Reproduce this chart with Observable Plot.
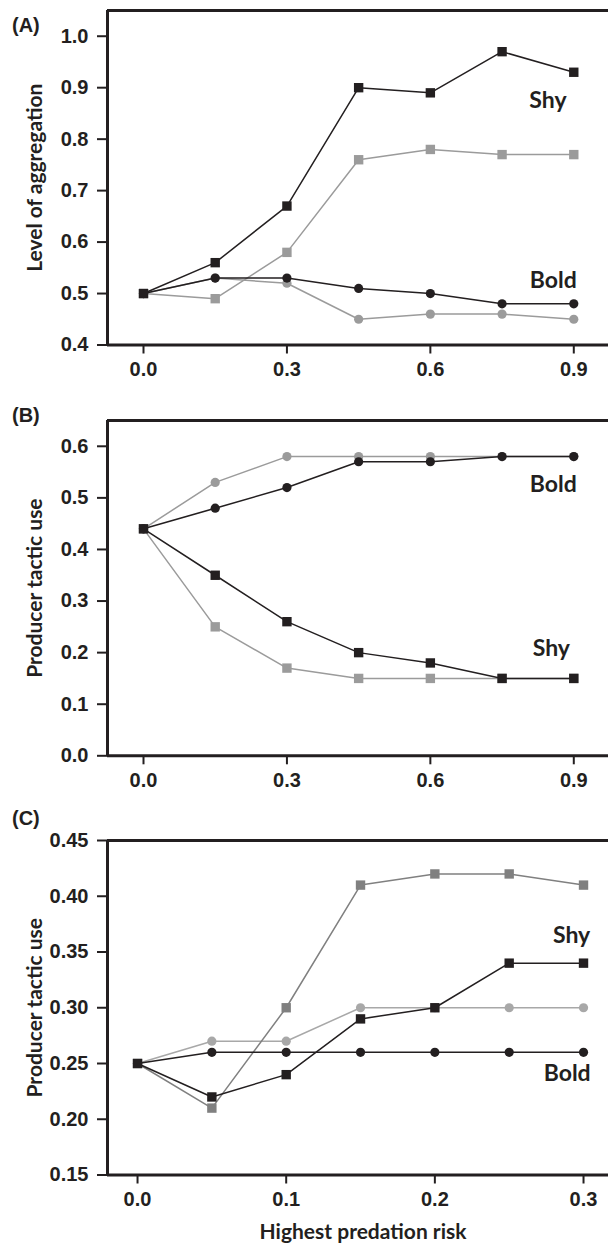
<!DOCTYPE html>
<html><head><meta charset="utf-8">
<script src="https://cdn.jsdelivr.net/npm/d3@7"></script>
<script src="https://cdn.jsdelivr.net/npm/@observablehq/plot@0.6"></script>
<style>
body{margin:0;background:#fff;}
#wrap{position:relative;width:608px;height:1246px;background:#fff;overflow:hidden;}
#wrap svg{position:absolute;left:0;font-weight:bold;}
#wrap svg g[aria-label="x-axis tick label"], #wrap svg g[aria-label="y-axis tick label"]{font-size:20px;font-weight:bold;}
.tag{position:absolute;left:12px;font:bold 20px 'Liberation Sans',Arial,sans-serif;line-height:1;color:#231f20;}
</style></head><body><div id="wrap"></div>
<script>
// x categories (predation risk)
const xAB = [0, 0.15, 0.3, 0.45, 0.6, 0.75, 0.9];
const xC  = [0, 0.05, 0.1, 0.15, 0.2, 0.25, 0.3];
// Panel A: level of aggregation
const aShyBlack  = [0.50, 0.56, 0.67, 0.90, 0.89, 0.97, 0.93];
const aShyGray   = [0.50, 0.49, 0.58, 0.76, 0.78, 0.77, 0.77];
const aBoldBlack = [0.50, 0.53, 0.53, 0.51, 0.50, 0.48, 0.48];
const aBoldGray  = [0.50, 0.53, 0.52, 0.45, 0.46, 0.46, 0.45];
// Panel B: producer tactic use
const bShyBlack  = [0.44, 0.35, 0.26, 0.20, 0.18, 0.15, 0.15];
const bShyGray   = [0.44, 0.25, 0.17, 0.15, 0.15, 0.15, 0.15];
const bBoldBlack = [0.44, 0.48, 0.52, 0.57, 0.57, 0.58, 0.58];
const bBoldGray  = [0.44, 0.53, 0.58, 0.58, 0.58, 0.58, 0.58];
// Panel C: producer tactic use
const cShyBlack  = [0.25, 0.22, 0.24, 0.29, 0.30, 0.34, 0.34];
const cShyGray   = [0.25, 0.21, 0.30, 0.41, 0.42, 0.42, 0.41];
const cBoldBlack = [0.25, 0.26, 0.26, 0.26, 0.26, 0.26, 0.26];
const cBoldGray  = [0.25, 0.27, 0.27, 0.30, 0.30, 0.30, 0.30];
// ticks
const xTicksAB = [0, 0.3, 0.6, 0.9];
const xTicksC  = [0, 0.1, 0.2, 0.3];
const yTicksA  = [0.4, 0.5, 0.6, 0.7, 0.8, 0.9, 1.0];
const yTicksB  = [0, 0.1, 0.2, 0.3, 0.4, 0.5, 0.6];
const yTicksC  = [0.15, 0.20, 0.25, 0.30, 0.35, 0.40, 0.45];
// labels
const panelTags = ["(A)", "(B)", "(C)"];
const yTitles = ["Level of aggregation", "Producer tactic use", "Producer tactic use"];
const xTitle = "Highest predation risk";
const annA = [{t: "Shy", x: 0.846, y: 0.875}, {t: "Bold", x: 0.857, y: 0.525}];
const annB = [{t: "Bold", x: 0.857, y: 0.526}, {t: "Shy", x: 0.853, y: 0.208}];
const annC = [{t: "Shy", x: 0.292, y: 0.365}, {t: "Bold", x: 0.289, y: 0.241}];

const INK = "#231f20";
const TICKFONT = "'Liberation Sans', Arial, sans-serif";
const TITLEFONT = "Lato, 'Open Sans', sans-serif";

function rows(xs, ys, key) { return xs.map((x, i) => ({x, y: ys[i], key})); }

function panel(o) {
  const series = o.series;
  const marks = [];
  for (const s of series) {
    marks.push(Plot.line(s.rows, {x: "x", y: "y", stroke: s.color, strokeWidth: 1.5}));
    marks.push(Plot.dot(s.rows, {x: "x", y: "y", fill: s.color, symbol: s.symbol, r: s.r, stroke: "none"}));
  }
  marks.push(Plot.ruleY([o.yDomain[1]], {stroke: INK, strokeWidth: 3}));
  marks.push(Plot.ruleY([o.yDomain[0]], {stroke: INK, strokeWidth: 3}));
  marks.push(Plot.ruleX([o.xDomain[0]], {stroke: INK, strokeWidth: 3}));
  marks.push(Plot.axisX(o.xTicks, {tickSize: 9, tickPadding: 8, strokeWidth: 2, tickFormat: o.xFmt, label: null, fontSize: 20, fontWeight: "bold", fill: INK, stroke: INK}));
  marks.push(Plot.axisY(o.yTicks, {tickSize: 10, tickPadding: 9, strokeWidth: 2, tickFormat: o.yFmt, label: null, fontSize: 20, fontWeight: "bold", fill: INK, stroke: INK}));
  marks.push(Plot.text(o.ann, {x: "x", y: "y", text: "t", fontFamily: TITLEFONT, fontSize: 23, fontWeight: "bold", fill: INK, lineAnchor: "middle"}));
  marks.push(Plot.text([o.yTitle], {text: d => d, frameAnchor: "left", rotate: -90, dx: -72, lineAnchor: "middle", textAnchor: "middle", fontFamily: TITLEFONT, fontSize: 21, fontWeight: "bold", fill: INK}));
  if (o.xTitle) marks.push(Plot.text([o.xTitle], {text: d => d, frameAnchor: "bottom", dx: 5, dy: 57, lineAnchor: "middle", fontFamily: TITLEFONT, fontSize: 21, fontWeight: "bold", fill: INK}));
  const svg = Plot.plot({
    width: 608, height: o.height,
    marginTop: o.mt, marginBottom: o.mb, marginLeft: 107, marginRight: 0,
    x: {domain: o.xDomain}, y: {domain: o.yDomain},
    style: {fontFamily: TICKFONT, fontSize: "20px", color: INK, background: "transparent", overflow: "visible"},
    marks
  });
  svg.style.top = o.top + "px";
  document.getElementById("wrap").appendChild(svg);
  const tag = document.createElement("div");
  tag.className = "tag"; tag.textContent = o.tag; tag.style.top = o.tagTop + "px";
  document.getElementById("wrap").appendChild(tag);
}

const f1 = d3.format(".1f"), f2 = d3.format(".2f");
const GRAY = "#9b9b9b", DGRAY = "#808080", LGRAY = "#a8a8a8";

panel({top: 0, height: 400, mt: 10, mb: 55.5, xDomain: [-0.0753, 0.9726], yDomain: [0.4, 1.05],
  xTicks: xTicksAB, yTicks: yTicksA, xFmt: f1, yFmt: f1, ann: annA, yTitle: yTitles[0], tag: panelTags[0], tagTop: 15,
  series: [
    {rows: rows(xAB, aBoldGray, "bg"), color: GRAY, symbol: "circle", r: 4.6},
    {rows: rows(xAB, aShyGray, "sg"), color: GRAY, symbol: "square", r: 5.3},
    {rows: rows(xAB, aBoldBlack, "bb"), color: INK, symbol: "circle", r: 4.6},
    {rows: rows(xAB, aShyBlack, "sb"), color: INK, symbol: "square", r: 5.3}
  ]});

panel({top: 400, height: 410, mt: 20, mb: 54.7, xDomain: [-0.0753, 0.9726], yDomain: [0, 0.65],
  xTicks: xTicksAB, yTicks: yTicksB, xFmt: f1, yFmt: f1, ann: annB, yTitle: yTitles[1], tag: panelTags[1], tagTop: 405,
  series: [
    {rows: rows(xAB, bBoldGray, "bg"), color: GRAY, symbol: "circle", r: 4.6},
    {rows: rows(xAB, bShyGray, "sg"), color: GRAY, symbol: "square", r: 5.3},
    {rows: rows(xAB, bBoldBlack, "bb"), color: INK, symbol: "circle", r: 4.6},
    {rows: rows(xAB, bShyBlack, "sb"), color: INK, symbol: "square", r: 5.3}
  ]});

panel({top: 810, height: 436, mt: 30, mb: 71.5, xDomain: [-0.0202, 0.3168], yDomain: [0.15, 0.45],
  xTicks: xTicksC, yTicks: yTicksC, xFmt: f1, yFmt: f2, ann: annC, yTitle: yTitles[2], xTitle, tag: panelTags[2], tagTop: 808,
  series: [
    {rows: rows(xC, cBoldGray, "bg"), color: LGRAY, symbol: "circle", r: 4.6},
    {rows: rows(xC, cShyGray, "sg"), color: DGRAY, symbol: "square", r: 5.3},
    {rows: rows(xC, cBoldBlack, "bb"), color: INK, symbol: "circle", r: 4.6},
    {rows: rows(xC, cShyBlack, "sb"), color: INK, symbol: "square", r: 5.3}
  ]});
</script></body></html>
